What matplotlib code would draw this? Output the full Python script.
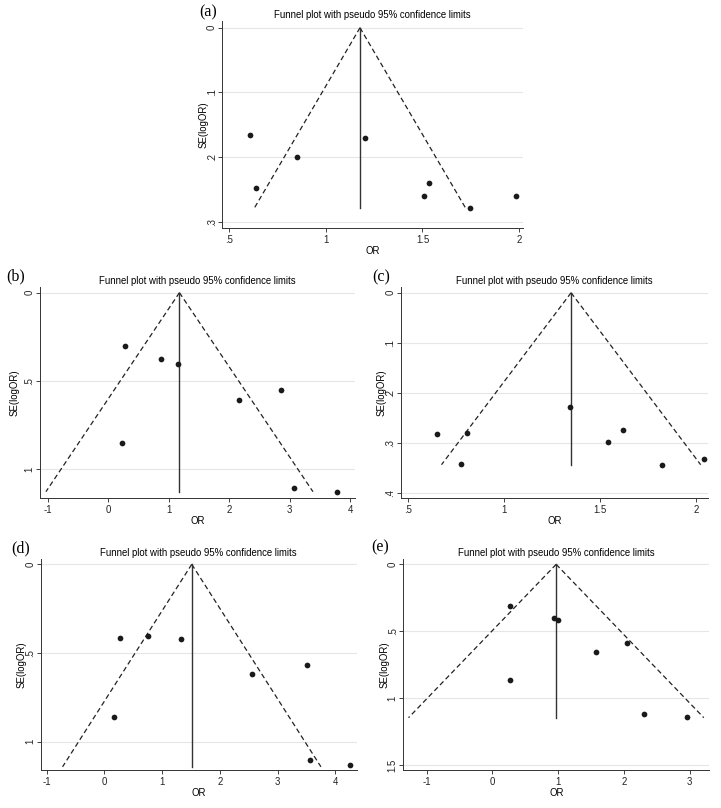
import matplotlib
matplotlib.use("Agg")
import matplotlib.pyplot as plt
import numpy as np

plt.rcParams['font.family'] = ['Liberation Sans', 'DejaVu Sans']

W, H = 721, 808

# ---- data (OR, SE(logOR)) per panel ----
a_or = [0.607, 0.639, 0.852, 1.205, 1.534, 1.510, 1.747, 1.985]
a_se = [0.166, 0.247, 0.200, 0.170, 0.240, 0.260, 0.278, 0.260]
a_center, a_maxse = 1.177, 0.278

b_or = [0.281, 0.876, 1.162, 0.236, 2.170, 2.853, 3.068, 3.779]
b_se = [0.303, 0.375, 0.405, 0.851, 0.609, 0.551, 1.104, 1.126]
b_center, b_maxse = 1.178, 1.126

c_or = [0.654, 0.810, 0.776, 1.344, 1.540, 1.621, 1.823, 2.041]
c_se = [0.283, 0.281, 0.342, 0.229, 0.299, 0.274, 0.344, 0.332]
c_center, c_maxse = 1.350, 0.344

d_or = [0.272, 0.761, 1.332, 0.173, 2.561, 3.502, 3.564, 4.251]
d_se = [0.415, 0.406, 0.421, 0.859, 0.620, 0.566, 1.105, 1.130]
d_center, d_maxse = 1.512, 1.142

e_or = [0.265, 0.944, 1.005, 0.265, 1.572, 2.055, 2.299, 2.958]
e_se = [0.309, 0.399, 0.416, 0.867, 0.658, 0.588, 1.117, 1.144]
e_center, e_maxse = 0.970, 1.146

a_xticks = [0.5, 1, 1.5, 2]; a_xlabels = ['.5', '1', '1.5', '2']
a_yticks = [0, 0.1, 0.2, 0.3]; a_ylabels = ['0', '.1', '.2', '.3']
b_xticks = [-1, 0, 1, 2, 3, 4]; b_xlabels = ['-1', '0', '1', '2', '3', '4']
b_yticks = [0, 0.5, 1]; b_ylabels = ['0', '.5', '1']
c_xticks = [0.5, 1, 1.5, 2]; c_xlabels = ['.5', '1', '1.5', '2']
c_yticks = [0, 0.1, 0.2, 0.3, 0.4]; c_ylabels = ['0', '.1', '.2', '.3', '.4']
d_xticks = [-1, 0, 1, 2, 3, 4]; d_xlabels = ['-1', '0', '1', '2', '3', '4']
d_yticks = [0, 0.5, 1]; d_ylabels = ['0', '.5', '1']
e_xticks = [-1, 0, 1, 2, 3]; e_xlabels = ['-1', '0', '1', '2', '3']
e_yticks = [0, 0.5, 1, 1.5]; e_ylabels = ['0', '.5', '1', '1.5']

title = "Funnel plot with pseudo 95% confidence limits"

fig = plt.figure(figsize=(W / 100, H / 100), dpi=100)

FS = 6.9


def panel(box, xlim, ylim, xs, ys, center, maxse, xt, xl, yt, yl, tag, tagpos, ylab_off):
    left, top, right, bottom = box
    ax = fig.add_axes([left / W, 1 - bottom / H, (right - left) / W, (bottom - top) / H])
    for y in yt:
        ax.axhline(y, color='#e6e6e6', lw=0.8, zorder=0)
    se_line = np.array([0.0, maxse])
    ax.plot(center - 1.96 * se_line, se_line, color='#222222', lw=0.9, ls=(0, (4, 2.5)))
    ax.plot(center + 1.96 * se_line, se_line, color='#222222', lw=0.9, ls=(0, (4, 2.5)))
    ax.plot([center, center], [0, maxse], color='#333333', lw=1.0)
    ax.scatter(xs, ys, s=17, color='#1a1a1a', zorder=3, linewidths=0)
    ax.set_xlim(*xlim)
    ax.set_ylim(ylim[1], ylim[0])
    ax.set_xticks(xt)
    ax.set_xticklabels(xl)
    ax.set_yticks(yt)
    ax.set_yticklabels(yl, rotation=90, va='center')
    ax.tick_params(labelsize=FS, length=3, width=0.6, pad=2, colors='#222222')
    ax.tick_params(axis='y', pad=1.0)
    for s in ['top', 'right']:
        ax.spines[s].set_visible(False)
    for s in ['left', 'bottom']:
        ax.spines[s].set_linewidth(0.7)
        ax.spines[s].set_color('#333333')
    ax.set_xlabel('OR', fontsize=FS, labelpad=1)
    ax.set_ylabel('SE(logOR)', fontsize=FS, va='center')
    ax.yaxis.set_label_coords(-ylab_off / (right - left), 0.5)
    fig.text((left + right) / 2 / W, 1 - (top - 6) / H, title, ha='center', va='center', fontsize=FS)
    fig.text(tagpos[0] / W, 1 - tagpos[1] / H, tag, ha='left', va='center', fontsize=11.5,
             family='Liberation Serif')
    return ax


panel((222.3, 21, 523, 227.7), (0.465, 2.02), (-0.0104, 0.309), a_or, a_se, a_center, a_maxse,
      a_xticks, a_xlabels, a_yticks, a_ylabels, '(a)', (199, 12), 19)
panel((40, 287, 355, 497.7), (-1.127, 4.08), (-0.032, 1.16), b_or, b_se, b_center, b_maxse,
      b_xticks, b_xlabels, b_yticks, b_ylabels, '(b)', (6, 276), 25)
panel((401, 287, 708.3, 497.7), (0.465, 2.064), (-0.0115, 0.41), c_or, c_se, c_center, c_maxse,
      c_xticks, c_xlabels, c_yticks, c_ylabels, '(c)', (372, 277), 19)
panel((40.7, 559, 356.7, 770), (-1.105, 4.37), (-0.030, 1.16), d_or, d_se, d_center, d_maxse,
      d_xticks, d_xlabels, d_yticks, d_ylabels, '(d)', (11, 548), 19.5)
panel((403.3, 559, 709.3, 770), (-1.356, 3.30), (-0.04, 1.537), e_or, e_se, e_center, e_maxse,
      e_xticks, e_xlabels, e_yticks, e_ylabels, '(e)', (371, 547), 19)

fig.savefig('out.png', dpi=100, facecolor='white')
